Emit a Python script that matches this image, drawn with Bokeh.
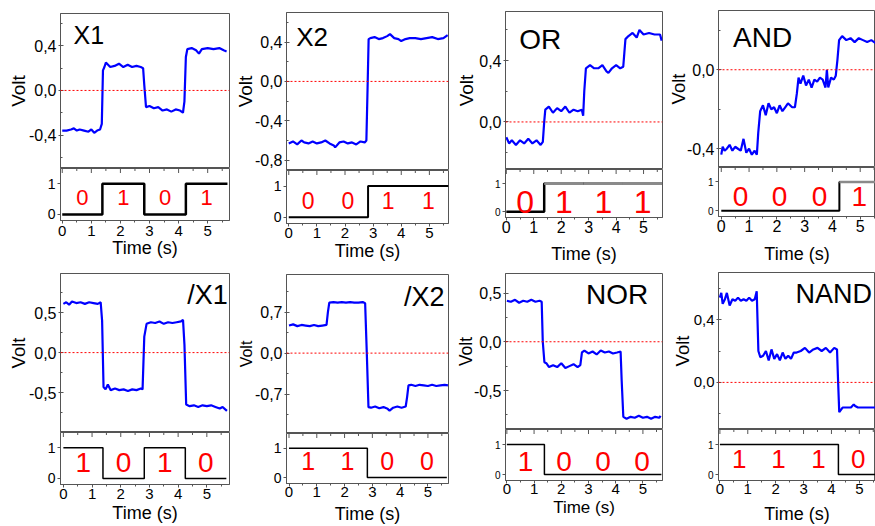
import math
from bokeh.plotting import figure
from bokeh.layouts import row, column
from bokeh.models import (FixedTicker, CustomJSTickFormatter, Label, Span,
                          ColumnDataSource, Range1d)
from bokeh.core.properties import value
from bokeh.embed import file_html
from bokeh.resources import INLINE

FONT = "Liberation Sans"

# ---------------- data ----------------
titles = ["X1", "X2", "OR", "AND", "/X1", "/X2", "NOR", "NAND"]

bits_X1 = [0, 1, 0, 1]
bits_X2 = [0, 0, 1, 1]
bits_OR = [0, 1, 1, 1]
bits_AND = [0, 0, 0, 1]
bits_nX1 = [1, 0, 1, 0]
bits_nX2 = [1, 1, 0, 0]
bits_NOR = [1, 0, 0, 0]
bits_NAND = [1, 1, 1, 0]

edges = [1.38, 2.82, 4.25]
t_end = 5.68

time_ticks = [0, 1, 2, 3, 4, 5]
time_minor = [0.5, 1.5, 2.5, 3.5, 4.5, 5.5]

t_X1 = [0.00,0.15,0.30,0.40,0.50,0.60,0.75,0.90,1.00,1.10,1.20,1.30,1.36,1.40,1.45,1.50,1.65,1.80,1.95,2.10,2.25,2.40,2.55,2.70,2.78,2.82,2.88,3.00,3.15,3.30,3.45,3.60,3.75,3.90,4.05,4.15,4.20,4.25,4.30,4.45,4.60,4.70,4.80,5.00,5.20,5.40,5.55,5.65]
v_X1 = [-0.36,-0.36,-0.35,-0.34,-0.36,-0.35,-0.36,-0.37,-0.35,-0.38,-0.36,-0.35,-0.30,0.18,0.21,0.25,0.21,0.22,0.24,0.21,0.23,0.21,0.22,0.21,0.20,0.05,-0.15,-0.14,-0.16,-0.15,-0.18,-0.17,-0.19,-0.17,-0.18,-0.20,-0.10,0.30,0.37,0.38,0.36,0.33,0.37,0.38,0.37,0.38,0.36,0.35]

t_X2 = [0.00,0.15,0.30,0.45,0.55,0.70,0.85,1.00,1.15,1.30,1.45,1.60,1.65,1.80,1.95,2.10,2.25,2.40,2.55,2.70,2.76,2.80,2.84,2.90,3.05,3.20,3.35,3.50,3.60,3.75,3.90,4.00,4.15,4.30,4.50,4.70,4.90,5.10,5.30,5.50,5.65]
v_X2 = [-0.63,-0.61,-0.64,-0.60,-0.62,-0.63,-0.61,-0.63,-0.62,-0.60,-0.63,-0.65,-0.67,-0.62,-0.61,-0.63,-0.62,-0.64,-0.61,-0.62,-0.60,-0.10,0.43,0.44,0.45,0.43,0.44,0.46,0.48,0.44,0.43,0.41,0.43,0.44,0.44,0.43,0.44,0.45,0.43,0.44,0.47]

t_OR = [0.00,0.10,0.20,0.35,0.50,0.65,0.80,0.95,1.10,1.25,1.33,1.38,1.42,1.55,1.70,1.85,2.00,2.15,2.30,2.45,2.60,2.75,2.80,2.84,2.90,3.05,3.20,3.35,3.50,3.65,3.72,3.85,4.00,4.15,4.26,4.30,4.34,4.45,4.60,4.75,4.85,5.00,5.20,5.40,5.60,5.66]
v_OR = [-0.10,-0.14,-0.12,-0.15,-0.12,-0.14,-0.11,-0.14,-0.12,-0.15,-0.13,0.00,0.08,0.10,0.06,0.09,0.07,0.10,0.06,0.08,0.07,0.08,0.04,0.20,0.35,0.37,0.35,0.35,0.37,0.33,0.32,0.35,0.37,0.35,0.36,0.45,0.54,0.56,0.58,0.55,0.60,0.57,0.58,0.57,0.57,0.53]

t_AND = [0.00,0.05,0.12,0.20,0.30,0.40,0.50,0.60,0.70,0.80,0.90,1.00,1.10,1.20,1.28,1.33,1.40,1.50,1.60,1.70,1.80,1.90,2.00,2.10,2.20,2.30,2.40,2.55,2.65,2.72,2.78,2.85,2.95,3.05,3.15,3.25,3.35,3.45,3.55,3.65,3.75,3.80,3.85,3.95,4.05,4.12,4.18,4.24,4.35,4.50,4.65,4.80,4.95,5.10,5.25,5.40,5.60]
v_AND = [-0.43,-0.39,-0.41,-0.40,-0.38,-0.41,-0.39,-0.40,-0.41,-0.35,-0.42,-0.40,-0.43,-0.41,-0.43,-0.32,-0.21,-0.18,-0.23,-0.17,-0.20,-0.19,-0.22,-0.18,-0.21,-0.19,-0.17,-0.19,-0.19,-0.12,-0.04,-0.07,-0.03,-0.08,-0.05,-0.09,-0.05,-0.06,-0.04,-0.05,-0.09,0.00,-0.09,-0.04,-0.05,-0.03,0.05,0.15,0.17,0.15,0.16,0.14,0.16,0.15,0.14,0.15,0.13]

t_nX1 = [0.00,0.10,0.20,0.30,0.45,0.60,0.75,0.90,1.05,1.20,1.30,1.35,1.40,1.47,1.55,1.65,1.80,1.95,2.10,2.25,2.40,2.55,2.70,2.76,2.82,2.90,3.05,3.20,3.35,3.50,3.65,3.80,3.95,4.10,4.17,4.22,4.28,4.40,4.55,4.70,4.85,5.00,5.15,5.30,5.45,5.55,5.70]
v_nX1 = [0.61,0.63,0.60,0.64,0.62,0.63,0.61,0.63,0.62,0.61,0.63,0.40,-0.43,-0.46,-0.40,-0.47,-0.45,-0.47,-0.46,-0.48,-0.46,-0.47,-0.45,-0.46,0.20,0.36,0.38,0.37,0.39,0.36,0.38,0.37,0.38,0.39,0.41,0.10,-0.65,-0.67,-0.66,-0.68,-0.66,-0.67,-0.66,-0.68,-0.70,-0.68,-0.73]

t_nX2 = [0.00,0.15,0.30,0.45,0.60,0.75,0.90,1.05,1.20,1.35,1.40,1.45,1.60,1.75,1.90,2.05,2.20,2.35,2.50,2.65,2.74,2.80,2.86,2.95,3.10,3.25,3.40,3.55,3.62,3.75,3.90,4.05,4.20,4.25,4.30,4.40,4.55,4.70,4.85,5.00,5.15,5.30,5.45,5.60,5.72]
v_nX2 = [0.47,0.49,0.46,0.48,0.47,0.46,0.48,0.46,0.47,0.48,0.70,0.86,0.87,0.86,0.87,0.86,0.87,0.86,0.86,0.87,0.85,0.00,-0.92,-0.93,-0.91,-0.94,-0.92,-0.95,-0.98,-0.93,-0.91,-0.93,-0.91,-0.75,-0.55,-0.54,-0.56,-0.54,-0.55,-0.56,-0.54,-0.56,-0.55,-0.54,-0.55]

t_NOR = [0.00,0.15,0.30,0.45,0.60,0.75,0.90,1.05,1.20,1.28,1.32,1.38,1.45,1.55,1.70,1.85,2.00,2.15,2.30,2.45,2.60,2.70,2.76,2.85,3.00,3.15,3.30,3.45,3.60,3.75,3.90,4.05,4.18,4.22,4.28,4.40,4.55,4.70,4.85,5.00,5.15,5.30,5.45,5.60,5.65]
v_NOR = [0.42,0.41,0.43,0.40,0.42,0.41,0.43,0.41,0.42,0.41,0.00,-0.21,-0.22,-0.26,-0.24,-0.26,-0.22,-0.27,-0.25,-0.23,-0.26,-0.24,-0.11,-0.09,-0.12,-0.10,-0.13,-0.09,-0.11,-0.10,-0.12,-0.11,-0.10,-0.40,-0.77,-0.79,-0.77,-0.78,-0.76,-0.78,-0.77,-0.79,-0.77,-0.78,-0.76]

t_NAND = [0.00,0.05,0.10,0.18,0.25,0.35,0.45,0.55,0.65,0.75,0.85,0.95,1.05,1.15,1.25,1.32,1.38,1.45,1.55,1.65,1.75,1.85,1.95,2.05,2.15,2.25,2.35,2.45,2.55,2.65,2.75,2.90,3.05,3.20,3.35,3.50,3.65,3.80,3.95,4.10,4.20,4.24,4.28,4.40,4.55,4.70,4.80,4.85,4.95,5.10,5.30,5.50,5.60]
v_NAND = [0.54,0.57,0.50,0.53,0.57,0.49,0.53,0.52,0.54,0.52,0.53,0.52,0.54,0.52,0.53,0.58,0.20,0.16,0.17,0.20,0.14,0.21,0.15,0.18,0.14,0.19,0.15,0.17,0.15,0.19,0.19,0.20,0.22,0.19,0.21,0.22,0.20,0.22,0.19,0.22,0.21,0.00,-0.19,-0.16,-0.16,-0.16,-0.14,-0.15,-0.16,-0.16,-0.16,-0.16,-0.16]

volt_major_X1 = [-0.4, 0.0, 0.4];        volt_minor_X1 = [-0.6, -0.2, 0.2, 0.6]
volt_major_X2 = [-0.8, -0.4, 0.0, 0.4];  volt_minor_X2 = [-0.6, -0.2, 0.2, 0.6]
volt_major_OR = [0.0, 0.4];              volt_minor_OR = [-0.2, 0.2, 0.6]
volt_major_AND = [-0.4, 0.0];            volt_minor_AND = [-0.2, 0.2]
volt_major_nX1 = [-0.5, 0.0, 0.5];       volt_minor_nX1 = [-0.75, -0.25, 0.25, 0.75]
volt_major_nX2 = [-0.7, 0.0, 0.7];       volt_minor_nX2 = [-1.05, -0.35, 0.35, 1.05]
volt_major_NOR = [-0.5, 0.0, 0.5];       volt_minor_NOR = [-0.75, -0.25, 0.25]
volt_major_NAND = [0.0, 0.4];            volt_minor_NAND = [-0.2, 0.2, 0.6]

traces = [(t_X1, v_X1), (t_X2, v_X2), (t_OR, v_OR), (t_AND, v_AND),
          (t_nX1, v_nX1), (t_nX2, v_nX2), (t_NOR, v_NOR), (t_NAND, v_NAND)]
bits = [bits_X1, bits_X2, bits_OR, bits_AND, bits_nX1, bits_nX2, bits_NOR, bits_NAND]
vmaj = [volt_major_X1, volt_major_X2, volt_major_OR, volt_major_AND,
        volt_major_nX1, volt_major_nX2, volt_major_NOR, volt_major_NAND]
vmin = [volt_minor_X1, volt_minor_X2, volt_minor_OR, volt_minor_AND,
        volt_minor_nX1, volt_minor_nX2, volt_minor_NOR, volt_minor_NAND]

# ---------------- layout / style (per panel) ----------------
# width, main_h, logic_h, border_left, border_right, border_top, border_bottom
geom = [
    (231, 168, 96, 60, 2, 13, 44), (221, 170, 94, 50, 4, 12, 41),
    (212, 169, 97, 50, 2, 11, 45), (211, 167, 99, 49, 0, 10, 46),
    (231, 168, 94, 57, 2, 9, 42), (221, 169, 93, 48, 4, 10, 42),
    (212, 163, 97, 50, 1, 7, 46), (211, 163, 97, 49, 0, 6, 43),
]
xr = [(-0.06, 5.75), (-0.08, 5.68), (-0.03, 5.69), (-0.10, 5.55),
      (-0.10, 5.79), (-0.09, 5.74), (-0.05, 5.72), (-0.05, 5.58)]
yr = [(-0.70, 0.69), (-0.905, 0.70), (-0.31, 0.72), (-0.495, 0.30),
      (-1.0, 0.99), (-1.37, 1.34), (-0.90, 0.70), (-0.30, 0.70)]
# title: fx, fy, align, size
tstyle = [(0.077, 0.953, "left", 25), (0.06, 0.938, "left", 26), (0.088, 0.924, "left", 28),
          (0.093, 0.927, "left", 28), (0.99, 0.957, "right", 27), (0.975, 0.952, "right", 27),
          (0.909, 0.963, "right", 28), (0.49, 0.957, "left", 27)]
volt_size = [19, 19, 19, 18.5, 18.5, 16, 17.5, 18.5]
volt_standoff = [-3, -4, -1, -5, -3, -3, -5, -2]
digit_y = [0.55, 0.54, 0.35, 0.49, 0.53, 0.55, 0.44, 0.51]
digit_size = [22, 23, 32, 28, 28, 25, 28, 26]
ytick_size = [16, 16, 16, 16, 16, 16, 16, 15]
ltick_size = [14, 14, 10, 10, 14, 14, 10, 10]
xtick_size = [15, 15, 16, 16, 15, 15, 15, 15]
xtick_standoff = [2, 1, 0, 0, 1, 0, 0, 0]
time_size = [18, 18, 18, 18, 18, 18, 17, 18]
time_standoff = [-1, 0, 8, 9, 1, 4, 1, 7]
high_grey = [False, False, True, True, False, False, False, False]
step_width = [2.5, 2, 2.5, 2, 1.5, 1.5, 1.5, 1.5]
OUTLINE = "#555555"

fmt = CustomJSTickFormatter(code="return tick.toFixed(1).replace('.', ',');")


def style_axis(ax, size):
    ax.major_label_text_font = FONT
    ax.major_label_text_font_size = f"{size}px"
    ax.major_label_text_color = "black"
    ax.axis_label_text_font = FONT
    ax.axis_label_text_font_style = "normal"
    ax.axis_label_text_color = "black"
    ax.axis_line_color = OUTLINE
    ax.major_tick_line_color = OUTLINE
    ax.minor_tick_line_color = OUTLINE


def make_panel(i):
    W, HM, HL, bl, br, bt, bb = geom[i]
    t, v = traces[i]
    x0, x1 = xr[i]
    y0, y1 = yr[i]

    m = figure(width=W, height=HM, x_range=Range1d(x0, x1), y_range=Range1d(y0, y1),
               x_axis_location=None, toolbar_location=None, output_backend="svg",
               min_border_left=bl, min_border_right=br, min_border_top=bt, min_border_bottom=0)
    m.grid.visible = False
    m.outline_line_color = OUTLINE
    m.outline_line_width = 1
    ya = m.yaxis[0]
    ya.ticker = FixedTicker(ticks=vmaj[i], minor_ticks=vmin[i])
    ya.formatter = fmt
    ya.axis_label = "Volt"
    style_axis(ya, ytick_size[i])
    ya.axis_label_text_font_size = f"{volt_size[i]}px"
    ya.axis_label_standoff = volt_standoff[i]
    ya.major_tick_in = 3
    ya.major_tick_out = 2
    ya.minor_tick_in = 2
    ya.minor_tick_out = 0
    ya.major_label_standoff = 2
    m.add_layout(Span(location=0, dimension="width", line_color="red",
                      line_dash="2 2", line_width=1))
    m.line(t, v, line_color="#0000ff", line_width=2.2)
    fx, fy, al, sz = tstyle[i]
    m.add_layout(Label(x=x0 + fx * (x1 - x0), y=y0 + fy * (y1 - y0), text=titles[i],
                       text_align=al, text_baseline="top", text_font=FONT,
                       text_font_size=f"{sz}px", text_color="black"))

    ylo, yhi = -0.2, 1.5
    lg = figure(width=W, height=HL, x_range=Range1d(x0, x1), y_range=Range1d(ylo, yhi),
                toolbar_location=None, output_backend="svg",
                min_border_left=bl, min_border_right=br, min_border_top=0, min_border_bottom=bb)
    lg.grid.visible = False
    lg.outline_line_color = OUTLINE
    # inward tick marks along the top edge (clipped dashes)
    lg.scatter(time_ticks, [yhi] * len(time_ticks), marker="dash", size=9,
               angle=math.pi / 2, line_color=OUTLINE, line_width=1)
    lg.scatter(time_minor, [yhi] * len(time_minor), marker="dash", size=5,
               angle=math.pi / 2, line_color=OUTLINE, line_width=1)
    b = bits[i]
    sx = [0.0] + edges + [t_end]
    sy = b + [b[-1]]
    lg.step(sx, sy, mode="after", line_color="black", line_width=step_width[i])
    if high_grey[i]:
        hx0 = [sx[k] for k in range(4) if b[k] == 1]
        hx1 = [sx[k + 1] for k in range(4) if b[k] == 1]
        lg.segment(hx0, [1] * len(hx0), hx1, [1] * len(hx0),
                   line_color="#8a8a8a", line_width=step_width[i] + 0.5)
    mids = [(sx[k] + sx[k + 1]) / 2 for k in range(4)]
    src = ColumnDataSource(dict(x=mids, y=[digit_y[i]] * 4, txt=[str(d) for d in b]))
    lg.text("x", "y", text="txt", source=src, text_color="red", text_align="center",
            text_baseline="middle", text_font=value(FONT),
            text_font_size=value(f"{digit_size[i]}px"))
    la = lg.yaxis[0]
    la.ticker = FixedTicker(ticks=[0, 1], minor_ticks=[])
    style_axis(la, ltick_size[i])
    la.major_tick_in = 0
    la.major_tick_out = 3
    la.major_label_standoff = 2
    xa = lg.xaxis[0]
    xa.ticker = FixedTicker(ticks=time_ticks, minor_ticks=time_minor)
    xa.axis_label = "Time (s)"
    style_axis(xa, xtick_size[i])
    xa.axis_label_text_font_size = f"{time_size[i]}px"
    xa.major_tick_in = 0
    xa.major_tick_out = 3
    xa.minor_tick_in = 0
    xa.minor_tick_out = 2
    xa.major_label_standoff = xtick_standoff[i]
    xa.axis_label_standoff = time_standoff[i]
    return m, lg


panels = [make_panel(i) for i in range(8)]
cols = []
for c in range(4):
    m1, l1 = panels[c]
    m2, l2 = panels[c + 4]
    cols.append(column(m1, l1, m2, l2, spacing=0))
layout = row(*cols, spacing=0)

open("out.html", "w").write(file_html(layout, INLINE))
